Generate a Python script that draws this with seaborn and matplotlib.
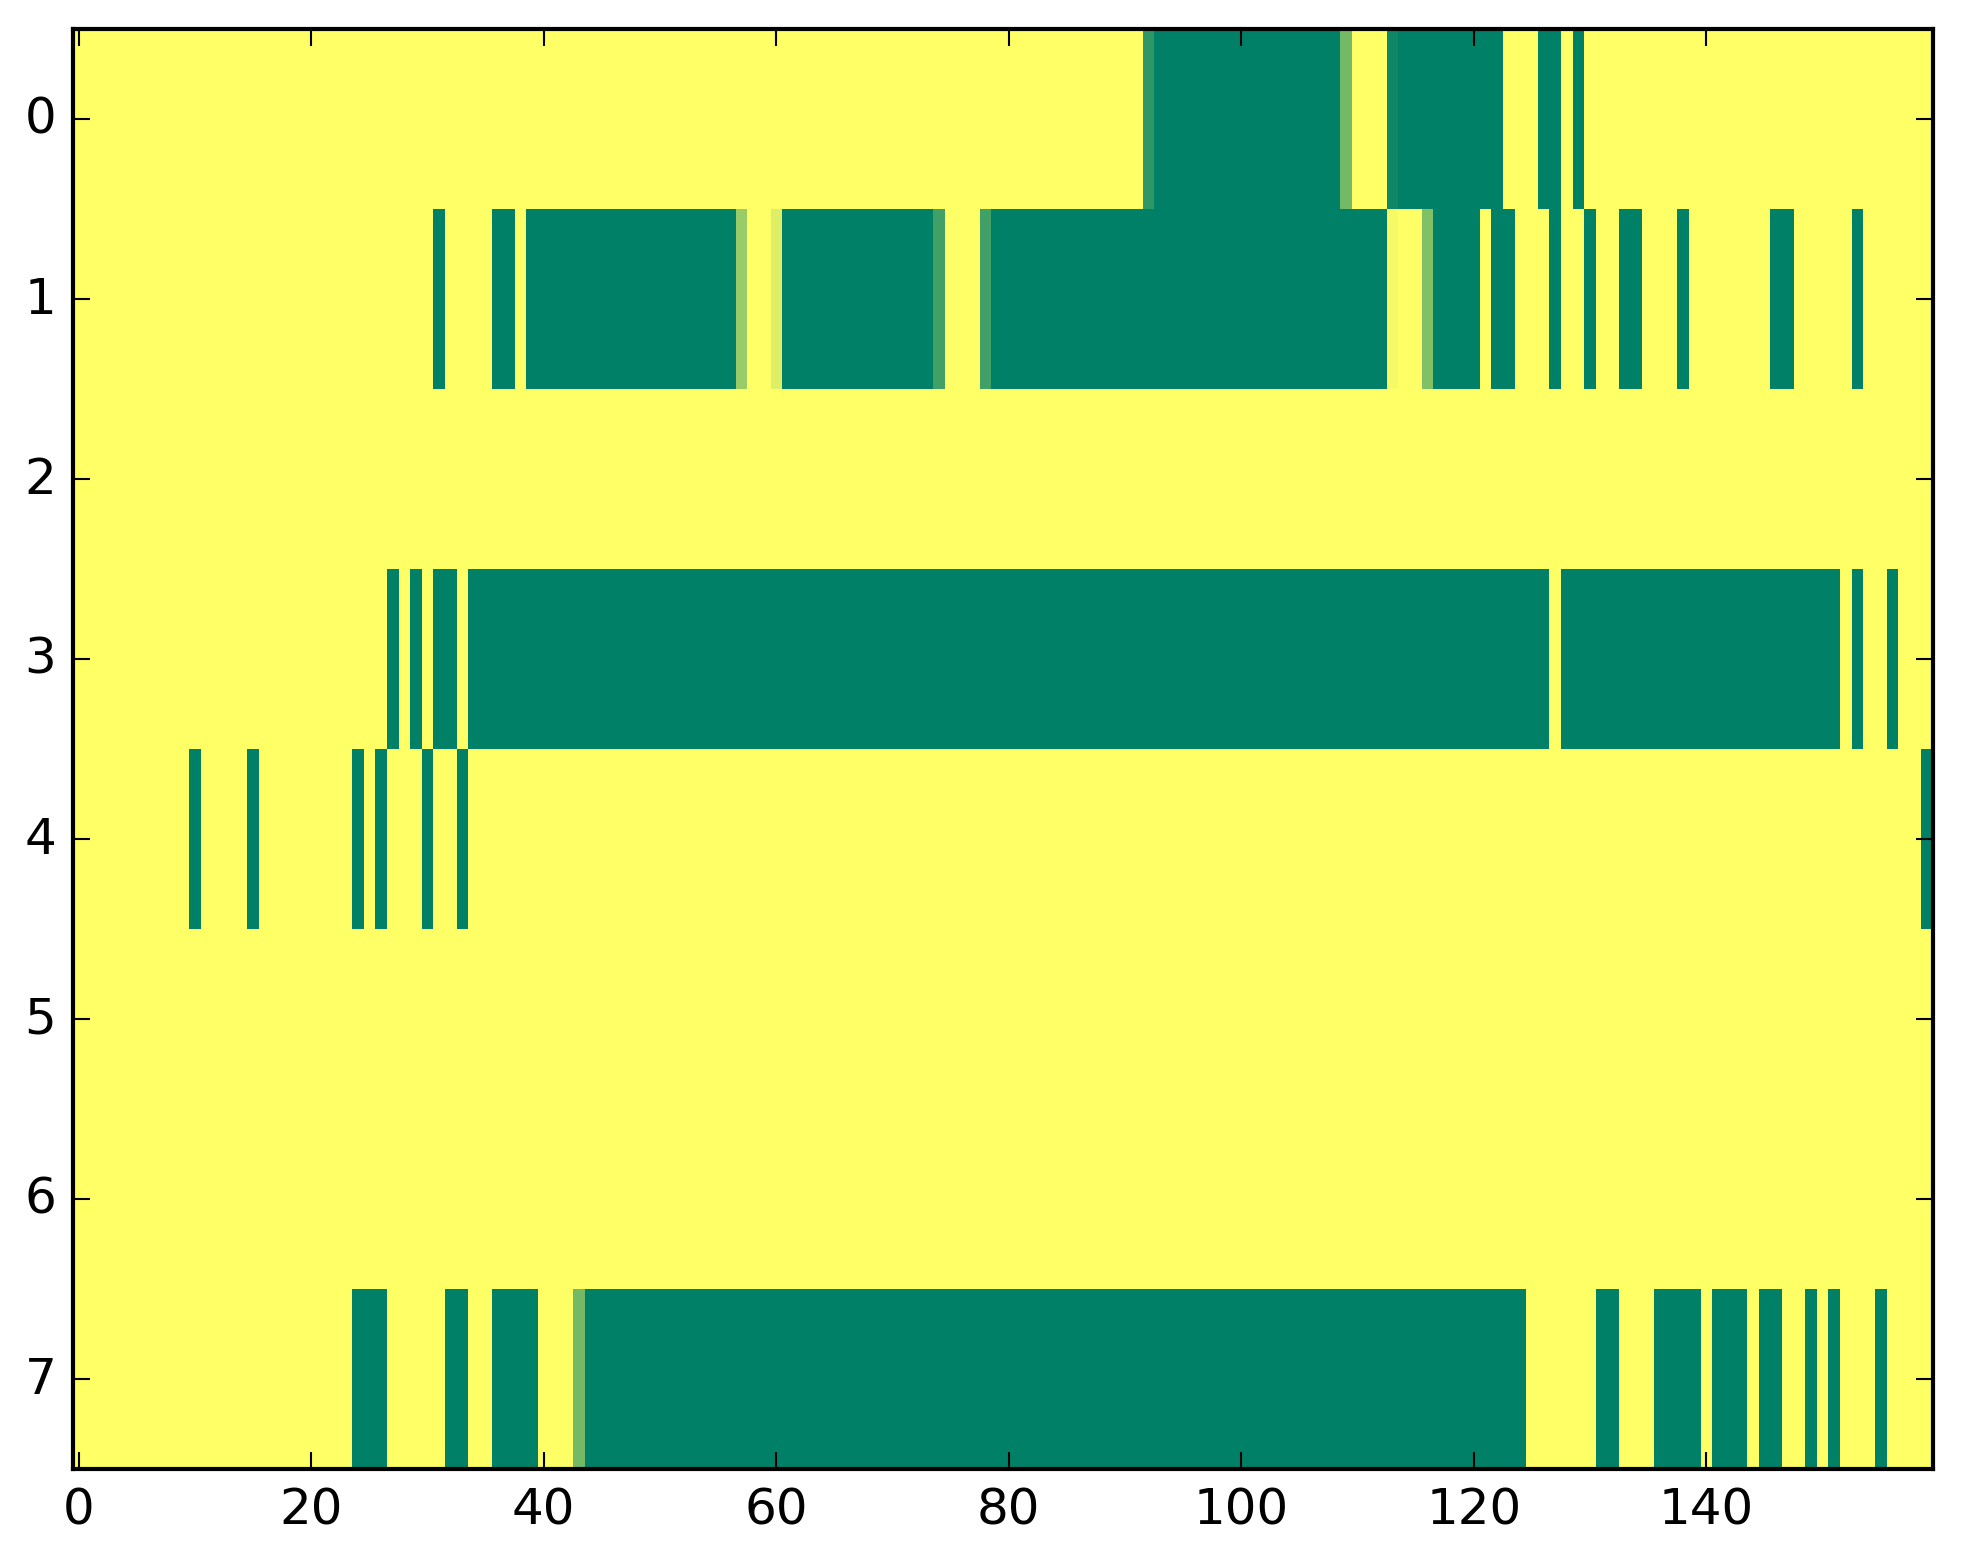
import numpy as np
import pandas as pd
import matplotlib
matplotlib.use("Agg")
import matplotlib.pyplot as plt
import seaborn as sns

# Values per row (160 columns each); 1 = yellow end of 'summer', 0 = green end
row_0 = [1, 1, 1, 1, 1, 1, 1, 1, 1, 1, 1, 1, 1, 1, 1, 1, 1, 1, 1, 1,
         1, 1, 1, 1, 1, 1, 1, 1, 1, 1, 1, 1, 1, 1, 1, 1, 1, 1, 1, 1,
         1, 1, 1, 1, 1, 1, 1, 1, 1, 1, 1, 1, 1, 1, 1, 1, 1, 1, 1, 1,
         1, 1, 1, 1, 1, 1, 1, 1, 1, 1, 1, 1, 1, 1, 1, 1, 1, 1, 1, 1,
         1, 1, 1, 1, 1, 1, 1, 1, 1, 1, 1, 1, .18, 0, 0, 0, 0, 0, 0, 0,
         0, 0, 0, 0, 0, 0, 0, 0, 0, .45, 1, 1, 1, .06, 0, 0, 0, 0, 0, 0,
         0, 0, 0, 1, 1, 1, 0, 0, 1, 0, 1, 1, 1, 1, 1, 1, 1, 1, 1, 1,
         1, 1, 1, 1, 1, 1, 1, 1, 1, 1, 1, 1, 1, 1, 1, 1, 1, 1, 1, 1]

row_1 = [1, 1, 1, 1, 1, 1, 1, 1, 1, 1, 1, 1, 1, 1, 1, 1, 1, 1, 1, 1,
         1, 1, 1, 1, 1, 1, 1, 1, 1, 1, 1, 0, 1, 1, 1, 1, 0, 0, 1, 0,
         0, 0, 0, 0, 0, 0, 0, 0, 0, 0, 0, 0, 0, 0, 0, 0, 0, .6, 1, 1,
         .87, 0, 0, 0, 0, 0, 0, 0, 0, 0, 0, 0, 0, 0, .25, 1, 1, 1, .25, 0,
         0, 0, 0, 0, 0, 0, 0, 0, 0, 0, 0, 0, 0, 0, 0, 0, 0, 0, 0, 0,
         0, 0, 0, 0, 0, 0, 0, 0, 0, 0, 0, 0, 0, .96, 1, 1, .5, 0, 0, 0,
         0, 1, 0, 0, 1, 1, 1, 0, 1, 1, 0, 1, 1, 0, 0, 1, 1, 1, 0, 1,
         1, 1, 1, 1, 1, 1, 0, 0, 1, 1, 1, 1, 1, 0, 1, 1, 1, 1, 1, 1]

row_2 = [1, 1, 1, 1, 1, 1, 1, 1, 1, 1, 1, 1, 1, 1, 1, 1, 1, 1, 1, 1,
         1, 1, 1, 1, 1, 1, 1, 1, 1, 1, 1, 1, 1, 1, 1, 1, 1, 1, 1, 1,
         1, 1, 1, 1, 1, 1, 1, 1, 1, 1, 1, 1, 1, 1, 1, 1, 1, 1, 1, 1,
         1, 1, 1, 1, 1, 1, 1, 1, 1, 1, 1, 1, 1, 1, 1, 1, 1, 1, 1, 1,
         1, 1, 1, 1, 1, 1, 1, 1, 1, 1, 1, 1, 1, 1, 1, 1, 1, 1, 1, 1,
         1, 1, 1, 1, 1, 1, 1, 1, 1, 1, 1, 1, 1, 1, 1, 1, 1, 1, 1, 1,
         1, 1, 1, 1, 1, 1, 1, 1, 1, 1, 1, 1, 1, 1, 1, 1, 1, 1, 1, 1,
         1, 1, 1, 1, 1, 1, 1, 1, 1, 1, 1, 1, 1, 1, 1, 1, 1, 1, 1, 1]

row_3 = [1, 1, 1, 1, 1, 1, 1, 1, 1, 1, 1, 1, 1, 1, 1, 1, 1, 1, 1, 1,
         1, 1, 1, 1, 1, 1, 1, 0, 1, 0, 1, 0, 0, 1, 0, 0, 0, 0, 0, 0,
         0, 0, 0, 0, 0, 0, 0, 0, 0, 0, 0, 0, 0, 0, 0, 0, 0, 0, 0, 0,
         0, 0, 0, 0, 0, 0, 0, 0, 0, 0, 0, 0, 0, 0, 0, 0, 0, 0, 0, 0,
         0, 0, 0, 0, 0, 0, 0, 0, 0, 0, 0, 0, 0, 0, 0, 0, 0, 0, 0, 0,
         0, 0, 0, 0, 0, 0, 0, 0, 0, 0, 0, 0, 0, 0, 0, 0, 0, 0, 0, 0,
         0, 0, 0, 0, 0, 0, 0, 1, 0, 0, 0, 0, 0, 0, 0, 0, 0, 0, 0, 0,
         0, 0, 0, 0, 0, 0, 0, 0, 0, 0, 0, 0, 1, 0, 1, 1, 0, 1, 1, 1]

row_4 = [1, 1, 1, 1, 1, 1, 1, 1, 1, 1, 0, 1, 1, 1, 1, 0, 1, 1, 1, 1,
         1, 1, 1, 1, 0, 1, 0, 1, 1, 1, 0, 1, 1, 0, 1, 1, 1, 1, 1, 1,
         1, 1, 1, 1, 1, 1, 1, 1, 1, 1, 1, 1, 1, 1, 1, 1, 1, 1, 1, 1,
         1, 1, 1, 1, 1, 1, 1, 1, 1, 1, 1, 1, 1, 1, 1, 1, 1, 1, 1, 1,
         1, 1, 1, 1, 1, 1, 1, 1, 1, 1, 1, 1, 1, 1, 1, 1, 1, 1, 1, 1,
         1, 1, 1, 1, 1, 1, 1, 1, 1, 1, 1, 1, 1, 1, 1, 1, 1, 1, 1, 1,
         1, 1, 1, 1, 1, 1, 1, 1, 1, 1, 1, 1, 1, 1, 1, 1, 1, 1, 1, 1,
         1, 1, 1, 1, 1, 1, 1, 1, 1, 1, 1, 1, 1, 1, 1, 1, 1, 1, 1, 0]

row_5 = list(row_2)
row_6 = list(row_2)

row_7 = [1, 1, 1, 1, 1, 1, 1, 1, 1, 1, 1, 1, 1, 1, 1, 1, 1, 1, 1, 1,
         1, 1, 1, 1, 0, 0, 0, 1, 1, 1, 1, 1, 0, 0, 1, 1, 0, 0, 0, 0,
         1, 1, 1, .45, 0, 0, 0, 0, 0, 0, 0, 0, 0, 0, 0, 0, 0, 0, 0, 0,
         0, 0, 0, 0, 0, 0, 0, 0, 0, 0, 0, 0, 0, 0, 0, 0, 0, 0, 0, 0,
         0, 0, 0, 0, 0, 0, 0, 0, 0, 0, 0, 0, 0, 0, 0, 0, 0, 0, 0, 0,
         0, 0, 0, 0, 0, 0, 0, 0, 0, 0, 0, 0, 0, 0, 0, 0, 0, 0, 0, 0,
         0, 0, 0, 0, 0, 1, 1, 1, 1, 1, 1, 0, 0, 1, 1, 1, 0, 0, 0, 0,
         1, 0, 0, 0, 1, 0, 0, 1, 1, 0, 1, 0, 1, 1, 1, 0, 1, 1, 1, 1]

row_labels = ["0", "1", "2", "3", "4", "5", "6", "7"]
x_tick_values = [0, 20, 40, 60, 80, 100, 120, 140]

rows = [row_0, row_1, row_2, row_3, row_4, row_5, row_6, row_7]
for r in rows:
    assert len(r) == 160, len(r)
data = pd.DataFrame(np.array(rows, dtype=float), index=row_labels)

plt.style.use("classic")
W, H, DPI = 1963, 1564, 300
fig = plt.figure(figsize=(W / DPI, H / DPI), dpi=DPI, facecolor="white")
ax = fig.add_axes([73 / W, 94 / H, 1860 / W, 1440 / H])
sns.heatmap(data, cmap="summer", vmin=0, vmax=1, cbar=False, ax=ax,
            xticklabels=False, yticklabels=False, linewidths=0)

for s in ax.spines.values():
    s.set_visible(True)
    s.set_linewidth(1.0)
    s.set_color("black")

ax.set_xticks([v + 0.5 for v in x_tick_values])
ax.set_xticklabels([str(v) for v in x_tick_values], rotation=0)
ax.set_yticks([i + 0.5 for i in range(len(row_labels))])
ax.set_yticklabels(row_labels, rotation=0)
ax.tick_params(which="both", direction="in", top=True, right=True,
               bottom=True, left=True, length=4, width=0.5,
               labelsize=12, pad=4, colors="black")
ax.set_xlabel("")
ax.set_ylabel("")

fig.savefig("out.png", dpi=DPI, facecolor="white")
